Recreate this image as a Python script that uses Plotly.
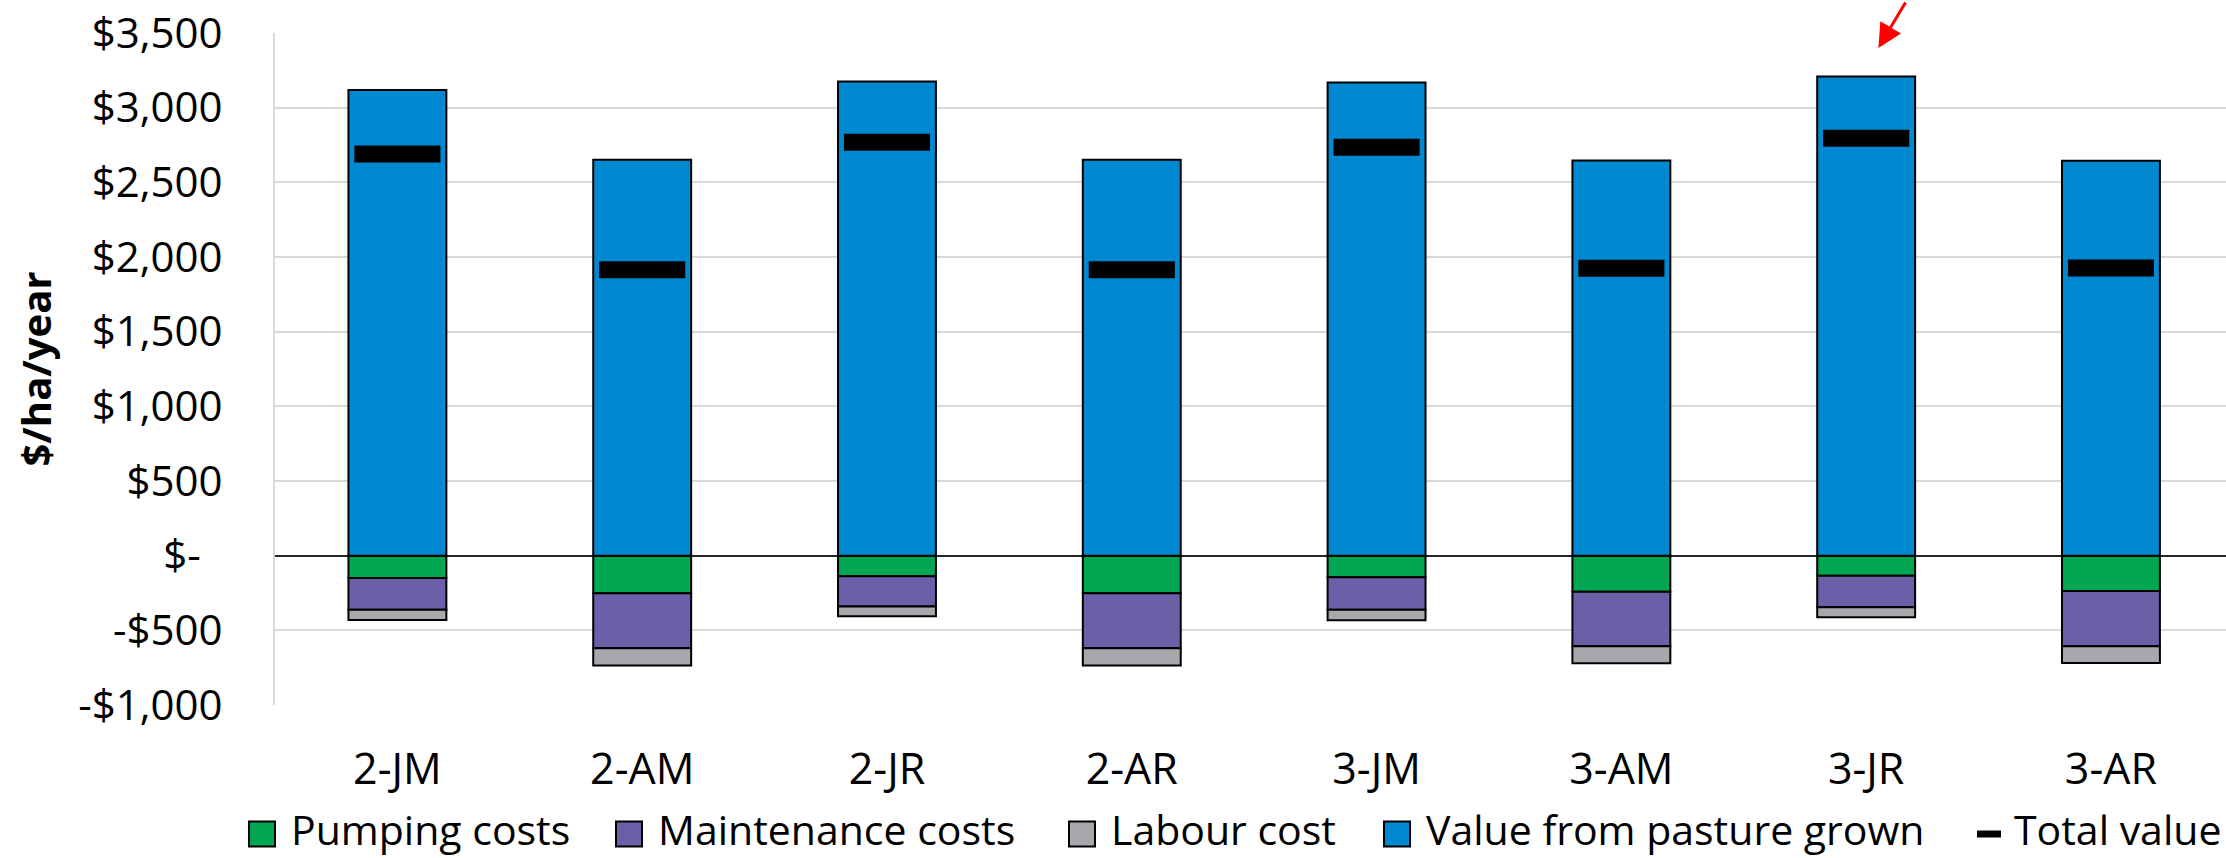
import plotly.graph_objects as go

categories = ["2-JM", "2-AM", "2-JR", "2-AR", "3-JM", "3-AM", "3-JR", "3-AR"]
pumping = [-149, -252, -138, -252, -145, -241, -134, -236]
maintenance = [-214, -368, -203, -368, -218, -366, -212, -371]
labour = [-67, -116, -65, -116, -70, -114, -67, -111]
pasture = [3119, 2651, 3175, 2651, 3168, 2646, 3208, 2644]
total = [p + a + b + c for p, a, b, c in zip(pasture, pumping, maintenance, labour)]

series_names = ["Pumping costs", "Maintenance costs", "Labour cost",
                "Value from pasture grown", "Total value"]
series_colors = ["#00A651", "#6B5FA8", "#A7A8AB", "#0088D0", "#000000"]

y_tickvals = [-1000, -500, 0, 500, 1000, 1500, 2000, 2500, 3000, 3500]
y_ticktext = ["-$1,000", "-$500", "$-\u00a0\u00a0", "$500", "$1,000", "$1,500",
              "$2,000", "$2,500", "$3,000", "$3,500"]

FONT = "Open Sans"
W, H = 2226, 858
ML, MR, MT, MB = 275, 0, 33, 153
PW, PH = W - ML - MR, H - MT - MB


def px2x(px):
    return (px - ML) / PW


def py2y(py):
    return 1 - (py - MT) / PH


fig = go.Figure()
outline = dict(color="#000000", width=2)
for vals, name, color in zip([pumping, maintenance, labour, pasture],
                             series_names[:4], series_colors[:4]):
    fig.add_trace(go.Bar(x=categories, y=vals, name=name,
                         marker=dict(color=color, line=outline)))
fig.add_trace(go.Scatter(x=categories, y=total, name=series_names[4], mode="markers",
                         marker=dict(symbol="line-ew", size=61.5, color=series_colors[4],
                                     line=dict(color=series_colors[4], width=17))))

fig.add_annotation(x=6.05, y=3400, xref="x", yref="y", text="", showarrow=True,
                   arrowhead=2, arrowsize=1.6, arrowwidth=3, arrowcolor="#FF0000",
                   ax=28, ay=-47, standoff=0)

# legend drawn below the plot (square swatches with black border, dash for total)
legend_left_px = [249, 616, 1069, 1384, 1977]
swatch_cy = 834
text_cy = 829
for i, (name, color, lx) in enumerate(zip(series_names, series_colors, legend_left_px)):
    if i < 4:
        fig.add_shape(type="rect", xref="paper", yref="paper",
                      x0=px2x(lx), x1=px2x(lx + 26),
                      y0=py2y(swatch_cy - 12.5), y1=py2y(swatch_cy + 12.5),
                      fillcolor=color, line=dict(color="#000000", width=2))
        tx = lx + 41
    else:
        fig.add_shape(type="rect", xref="paper", yref="paper",
                      x0=px2x(lx), x1=px2x(lx + 24),
                      y0=py2y(swatch_cy - 3.5), y1=py2y(swatch_cy + 3.5),
                      fillcolor=color, line=dict(width=0))
        tx = lx + 36
    fig.add_annotation(x=px2x(tx), y=py2y(text_cy), xref="paper", yref="paper",
                       text=name, showarrow=False, xanchor="left", yanchor="middle",
                       borderpad=0,
                       font=dict(family=FONT, size=41, color="#000000"))

fig.update_layout(
    width=W, height=H,
    margin=dict(l=ML, r=MR, t=MT, b=MB),
    barmode="relative", bargap=0.6,
    plot_bgcolor="white", paper_bgcolor="white",
    font=dict(family=FONT, size=42, color="#000000"),
    showlegend=False,
    xaxis=dict(type="category", range=[-0.5, 7.47], showgrid=False, showline=False,
               zeroline=False, ticks="", ticklabelstandoff=35,
               tickfont=dict(family=FONT, size=43, color="#000000")),
    yaxis=dict(range=[-1000, 3500], tickvals=y_tickvals, ticktext=y_ticktext,
               showgrid=True, gridcolor="#D9D9D9", gridwidth=2,
               zeroline=True, zerolinecolor="#262626", zerolinewidth=2,
               showline=True, linecolor="#D9D9D9", linewidth=2,
               ticks="", ticklabelstandoff=42,
               tickfont=dict(family=FONT, size=42, color="#000000"),
               title=dict(text="<b>$/ha/year</b>", standoff=14,
                          font=dict(family=FONT, size=40, color="#000000"))),
)

fig.write_html("out.html")
